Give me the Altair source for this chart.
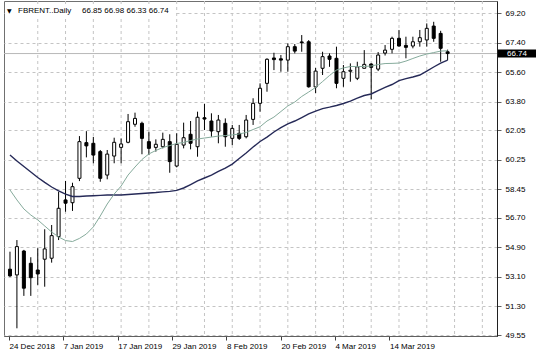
import altair as alt
import pandas as pd

opens = [53.57, 53.22, 54.68, 53.93, 53.52, 54.18, 54.24, 55.56, 57.80, 57.63,
         59.12, 61.30, 61.26, 60.75, 59.32, 60.48, 61.01, 61.32, 62.42, 62.48,
         61.36, 61.01, 61.05, 61.36, 59.87, 61.15, 61.81, 61.05, 62.82, 62.62,
         61.97, 62.48, 61.56, 61.87, 61.66, 62.72, 63.70, 64.92, 66.47, 66.42,
         66.34, 67.16, 67.45, 67.46, 64.70, 65.84, 66.59, 66.45, 65.23, 65.66,
         65.23, 65.84, 66.10, 65.79, 66.77, 67.00, 67.67, 67.24, 67.20, 67.46,
         67.57, 68.42, 67.97, 66.85]
highs = [54.64, 55.35, 54.75, 54.30, 54.85, 56.01, 56.27, 58.30, 58.96, 58.85,
         61.70, 62.00, 61.65, 60.85, 60.85, 61.60, 61.56, 63.05, 63.13, 62.58,
         61.97, 61.50, 61.91, 61.81, 61.87, 62.52, 62.62, 63.19, 63.66, 63.09,
         62.99, 62.78, 62.38, 62.38, 62.99, 64.01, 64.92, 66.45, 66.79, 66.65,
         67.36, 67.32, 67.87, 67.56, 65.86, 66.85, 66.75, 67.16, 66.04, 66.14,
         66.24, 66.95, 66.15, 66.83, 67.26, 67.77, 68.18, 67.77, 67.77, 68.18,
         68.58, 68.68, 68.13, 66.98]
lows = [53.10, 49.96, 51.94, 51.94, 52.61, 52.50, 53.97, 55.35, 57.08, 57.13,
        58.95, 60.40, 60.04, 58.91, 59.06, 60.04, 60.04, 61.26, 62.27, 60.59,
        60.54, 60.75, 60.95, 59.46, 59.79, 60.95, 60.89, 60.44, 62.07, 61.66,
        61.26, 61.05, 61.15, 61.46, 61.56, 62.38, 63.19, 64.41, 65.73, 65.63,
        65.63, 66.75, 66.85, 64.66, 64.33, 65.43, 65.93, 64.62, 64.71, 65.02,
        65.12, 65.84, 63.95, 65.67, 66.62, 66.75, 67.16, 66.45, 67.06, 67.16,
        67.16, 67.46, 66.24, 66.33]
closes = [53.16, 54.95, 52.41, 53.05, 53.28, 54.81, 55.62, 57.29, 57.60, 58.61,
          61.36, 61.10, 60.54, 59.12, 60.60, 61.32, 61.22, 62.58, 62.78, 61.56,
          60.95, 61.20, 61.50, 60.14, 61.20, 61.60, 61.26, 62.85, 62.74, 62.01,
          62.68, 61.66, 62.17, 61.56, 62.68, 63.70, 64.62, 66.39, 66.37, 66.34,
          67.16, 66.89, 67.40, 64.71, 65.67, 66.55, 66.39, 64.92, 65.63, 65.72,
          65.93, 66.08, 65.90, 66.65, 66.95, 67.67, 67.20, 67.12, 67.46, 67.71,
          68.28, 67.67, 67.06, 66.74]
ma_slow = [60.54, 60.18, 59.84, 59.51, 59.17, 58.87, 58.59, 58.35, 58.16, 58.01,
           58.01, 58.04, 58.06, 58.08, 58.10, 58.10, 58.10, 58.13, 58.16, 58.19,
           58.22, 58.25, 58.29, 58.32, 58.38, 58.53, 58.74, 58.96, 59.14, 59.32,
           59.54, 59.75, 59.99, 60.33, 60.67, 61.03, 61.37, 61.64, 61.95, 62.22,
           62.44, 62.62, 62.83, 63.05, 63.23, 63.38, 63.47, 63.57, 63.69, 63.84,
           64.02, 64.18, 64.27, 64.48, 64.67, 64.85, 65.09, 65.21, 65.31, 65.43,
           65.67, 65.92, 66.16, 66.34]
ma_fast = [58.41, 57.80, 57.25, 56.88, 56.58, 56.21, 55.84, 55.54, 55.32, 55.26,
           55.45, 55.72, 56.15, 56.82, 57.55, 58.16, 58.65, 59.32, 59.81, 60.27,
           60.61, 60.82, 61.00, 61.12, 61.25, 61.31, 61.43, 61.52, 61.58, 61.64,
           61.70, 61.73, 61.77, 61.83, 61.92, 62.10, 62.27, 62.62, 62.86, 63.20,
           63.54, 63.78, 64.12, 64.39, 64.67, 65.03, 65.40, 65.73, 65.86, 65.95,
           65.95, 65.95, 65.98, 66.07, 66.13, 66.14, 66.16, 66.28, 66.44, 66.59,
           66.71, 66.80, 66.89, 66.91]

price_ticks = [69.20, 67.40, 65.60, 63.80, 62.05, 60.25, 58.45, 56.70, 54.90, 53.10, 51.30, 49.55]
date_labels = ["24 Dec 2018", "7 Jan 2019", "17 Jan 2019", "29 Jan 2019",
               "8 Feb 2019", "20 Feb 2019", "4 Mar 2019", "14 Mar 2019"]
date_label_bars = [-0.14, 7.66, 15.51, 23.31, 31.17, 39.0, 46.78, 54.63]
last_price = 66.74
symbol_title = "FBRENT..Daily"
title_ohlc = "66.85 66.98 66.33 66.74"

n = len(opens)
df = pd.DataFrame({
    "bar": list(range(n)), "open": opens, "high": highs, "low": lows,
    "close": closes, "fast": ma_fast, "slow": ma_slow,
})
df["bull"] = df["close"] >= df["open"]

grid_df = pd.DataFrame({"bar": list(range(4, 70, 4))})
last_df = pd.DataFrame({"price": [last_price], "label": [f"{last_price:.2f}"]})
one = pd.DataFrame({"k": [0]})

FONT = "Liberation Sans"
xs = alt.Scale(domain=[-0.14, 69.39], nice=False, zero=False)
ys = alt.Scale(domain=[49.49, 69.95], nice=False, zero=False)

label_expr = "".join(
    f"abs(datum.value - ({v})) < 0.01 ? '{lab}' : " for v, lab in zip(date_label_bars, date_labels)
) + "''"

x_axis = alt.Axis(values=date_label_bars, labelExpr=label_expr, orient="bottom",
                  grid=False, tickSize=4, tickColor="#404040", domainColor="#606060",
                  labelAlign="left", labelPadding=2, labelFont=FONT, labelFontSize=8,
                  labelColor="black", labelOverlap=False, labelFlush=False, title=None)
y_axis = alt.Axis(values=price_ticks, format=".2f", orient="right", grid=True,
                  gridColor="#c4c4c4", gridDash=[3, 3], gridWidth=1,
                  tickSize=4, tickColor="#606060", domainColor="#202020",
                  labelPadding=4, labelFont=FONT, labelFontSize=8, labelColor="black",
                  labelOverlap=False, labelFlush=False, title=None)


def X(field):
    return alt.X(field, type="quantitative", scale=xs, axis=x_axis)


def Y(field):
    return alt.Y(field, type="quantitative", scale=ys, axis=y_axis)


base = alt.Chart(df)

vgrid = alt.Chart(grid_df).mark_rule(color="#c4c4c4", strokeDash=[3, 3], strokeWidth=1).encode(
    x=X("bar")
)

price_line = alt.Chart(last_df).mark_rule(color="#b8b8b8", strokeWidth=1).encode(
    y=Y("price")
)

wicks = base.mark_rule(color="black", strokeWidth=1).encode(
    x=X("bar"), y=Y("low"), y2="high:Q",
)

bodies = base.mark_bar(size=3, stroke="black", strokeWidth=1).encode(
    x=X("bar"), y=Y("open"), y2="close:Q",
    fill=alt.condition(alt.datum.bull, alt.value("white"), alt.value("black")),
)

slow_line = base.mark_line(color="#262a58", strokeWidth=1.4).encode(
    x=X("bar"), y=Y("slow"),
)
fast_line = base.mark_line(color="#86ab9c", strokeWidth=1).encode(
    x=X("bar"), y=Y("fast"),
)

header_bg = alt.Chart(one).mark_rect(color="white").encode(
    x=alt.value(1), x2=alt.value(170), y=alt.value(4), y2=alt.value(17)
)
header_tri = alt.Chart(one).mark_text(text="▼", font="DejaVu Sans", fontSize=6,
                                      align="left", baseline="middle", color="black").encode(
    x=alt.value(3), y=alt.value(10)
)
header_sym = alt.Chart(one).mark_text(text=symbol_title, font=FONT, fontSize=8,
                                      align="left", baseline="middle", color="black").encode(
    x=alt.value(14), y=alt.value(10)
)
header_ohlc = alt.Chart(one).mark_text(text=title_ohlc, font=FONT, fontSize=8,
                                       align="left", baseline="middle", color="black").encode(
    x=alt.value(78), y=alt.value(10)
)

price_box = alt.Chart(last_df).mark_tick(color="black", size=38, thickness=8, opacity=1,
                                         orient="horizontal").encode(
    x=alt.value(513), y=Y("price")
)
price_txt = alt.Chart(last_df).mark_text(font=FONT, fontSize=8, color="white",
                                         align="center", baseline="middle").encode(
    x=alt.value(513), y=Y("price"), text="label:N"
)

chart = alt.layer(
    vgrid, price_line, wicks, bodies, slow_line, fast_line,
    header_bg, header_tri, header_sym, header_ohlc, price_box, price_txt
).properties(
    width=493, height=335, autosize="none",
    padding={"left": 4, "top": 1, "right": 39, "bottom": 22},
    background="white",
).configure_view(stroke="#707070", strokeWidth=1)

chart.save("out.html", embed_options={"renderer": "svg", "actions": False})
